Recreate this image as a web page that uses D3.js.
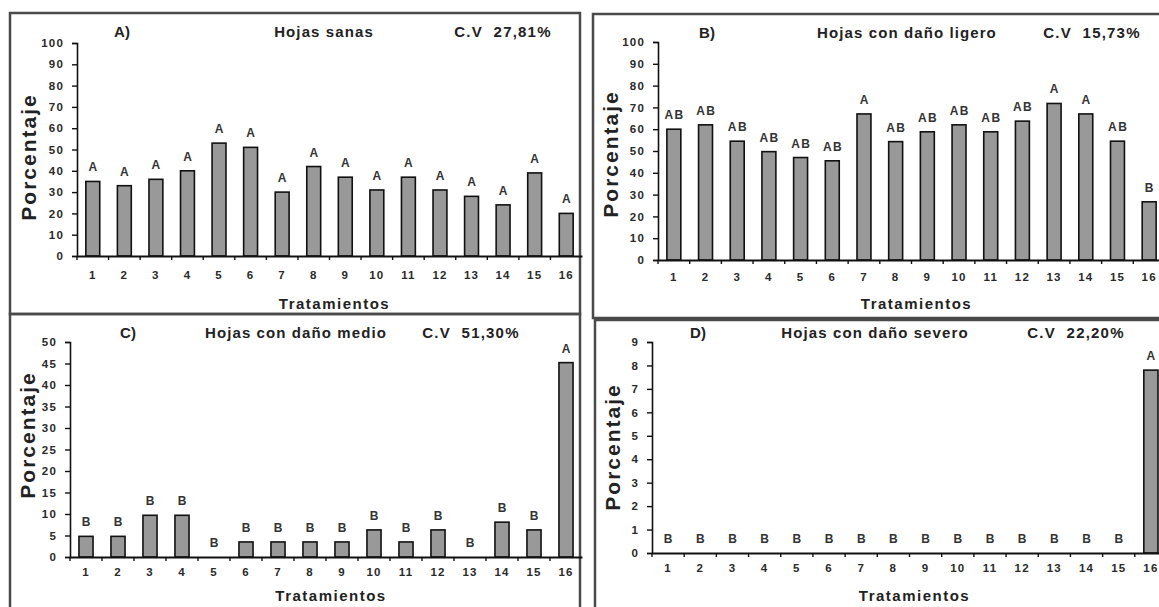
<!DOCTYPE html>
<html>
<head>
<meta charset="utf-8">
<script src="https://cdn.jsdelivr.net/npm/d3@7"></script>
<style>
  body { margin: 0; background: #fff; }
  svg { display: block; font-family: "Liberation Sans", Arial, sans-serif; }
  .ttl { font-weight: bold; fill: #222; }
</style>
</head>
<body>
<div id="chart"></div>
<script>
// Treatments 1..16
const tratamientos = d3.range(1, 17).map(String);

// A) Hojas sanas
const sanas = [35, 33, 36, 40, 53, 51, 30, 42, 37, 31, 37, 31, 28, 24, 39, 20];
const letrasSanas = ["A", "A", "A", "A", "A", "A", "A", "A", "A", "A", "A", "A", "A", "A", "A", "A"];

// B) Hojas con daño ligero
const ligero = [60, 62, 54.5, 49.7, 47, 45.5, 67, 54.3, 58.8, 62, 58.8, 63.7, 71.8, 67, 54.5, 26.7];
const letrasLigero = ["AB", "AB", "AB", "AB", "AB", "AB", "A", "AB", "AB", "AB", "AB", "AB", "A", "A", "AB", "B"];

// C) Hojas con daño medio
const medio = [4.8, 4.8, 9.7, 9.7, 0, 3.5, 3.5, 3.5, 3.5, 6.3, 3.5, 6.3, 0, 8.1, 6.3, 45.2];
const letrasMedio = ["B", "B", "B", "B", "B", "B", "B", "B", "B", "B", "B", "B", "B", "B", "B", "A"];

// D) Hojas con daño severo
const severo = [0, 0, 0, 0, 0, 0, 0, 0, 0, 0, 0, 0, 0, 0, 0, 7.8];
const letrasSevero = ["B", "B", "B", "B", "B", "B", "B", "B", "B", "B", "B", "B", "B", "B", "B", "A"];

// Y tick values per panel
const ticksPct100 = d3.range(0, 101, 10);
const ticksMedio = d3.range(0, 51, 5);
const ticksSevero = d3.range(0, 10, 1);

const W = 1159, H = 607;

const svg = d3.select("#chart").append("svg")
    .attr("width", W)
    .attr("height", H);

// panel layout (box = frame, ax = plotting area)
const panels = [
  { tag: "A)", name: "Hojas sanas", cv: "C.V  27,81%", values: sanas, letters: letrasSanas,
    max: 100, ticks: ticksPct100,
    box: [10, 13, 570, 301], x0: 77, x1: 582, yTop: 43, yBot: 256, xPad: 15, titleY: 37,
    tagX: 122, nameX: 324, cvX: 503, labX: 29, labY: 157, xtY: 309 },
  { tag: "B)", name: "Hojas con daño ligero", cv: "C.V  15,73%", values: ligero, letters: letrasLigero,
    max: 100, ticks: ticksPct100,
    box: [593, 14, 600, 304], x0: 658, x1: 1165, yTop: 42, yBot: 260, xPad: 13, titleY: 38,
    tagX: 707, nameX: 907, cvX: 1092, labX: 611, labY: 154, xtY: 309 },
  { tag: "C)", name: "Hojas con daño medio", cv: "C.V  51,30%", values: medio, letters: letrasMedio,
    max: 50, ticks: ticksMedio,
    box: [10, 314, 570, 310], x0: 70, x1: 582, yTop: 342, yBot: 557, xPad: 11, titleY: 338,
    tagX: 128, nameX: 296, cvX: 471, labX: 28, labY: 435, xtY: 601 },
  { tag: "D)", name: "Hojas con daño severo", cv: "C.V  22,20%", values: severo, letters: letrasSevero,
    max: 9, ticks: ticksSevero,
    box: [595, 320, 600, 310], x0: 652, x1: 1167, yTop: 342, yBot: 553, xPad: 11, titleY: 338,
    tagX: 698, nameX: 875, cvX: 1076, labX: 613, labY: 447, xtY: 601 }
];

panels.forEach(drawPanel);

function drawPanel(p) {
    const g = svg.append("g");

    // frame
    g.append("rect")
        .attr("x", p.box[0]).attr("y", p.box[1])
        .attr("width", p.box[2]).attr("height", p.box[3])
        .attr("fill", "none")
        .attr("stroke", "#4a4a4a")
        .attr("stroke-width", 2.5);

    const slot = d3.scaleBand().domain(tratamientos).range([p.x0, p.x1]).padding(0);
    const xBar = d3.scaleBand().domain(tratamientos).range([p.x0, p.x1])
        .paddingInner(0.56).paddingOuter(0.28);
    const y = d3.scaleLinear().domain([0, p.max]).range([p.yBot, p.yTop]);

    // bars
    g.selectAll(".bar")
        .data(p.values)
        .enter()
        .append("rect")
        .attr("class", "bar")
        .attr("x", (d, i) => xBar(tratamientos[i]))
        .attr("y", d => y(d))
        .attr("width", xBar.bandwidth())
        .attr("height", d => y(0) - y(d))
        .attr("fill", d => d > 0 ? "#999" : "none")
        .attr("stroke", d => d > 0 ? "#111" : "none")
        .attr("stroke-width", 1.6);

    // significance letters
    g.selectAll(".letter")
        .data(p.letters)
        .enter()
        .append("text")
        .attr("class", "letter")
        .attr("x", (d, i) => xBar(tratamientos[i]) + xBar.bandwidth() / 2 + 0.7)
        .attr("y", (d, i) => y(p.values[i]) - 10)
        .attr("text-anchor", "middle")
        .style("font-size", "12px")
        .style("font-weight", "bold")
        .style("letter-spacing", "1.4px")
        .style("fill", "#333")
        .text(d => d);

    // y axis
    const yAxis = d3.axisLeft(y).tickValues(p.ticks).tickSize(5).tickPadding(8);
    const ya = g.append("g")
        .attr("transform", `translate(${p.x0},0)`)
        .call(yAxis);
    ya.select(".domain").attr("stroke", "#111").attr("stroke-width", 1.6);
    ya.selectAll(".tick line").attr("stroke", "#111").attr("stroke-width", 1.4);
    ya.selectAll("text")
        .style("font-size", "11.5px")
        .style("font-weight", "bold")
        .style("letter-spacing", "1.2px")
        .style("fill", "#2a2a2a")
        .style("font-family", "Liberation Sans, Arial, sans-serif");

    // x axis line with ticks between treatments
    const xa = g.append("g")
        .attr("transform", `translate(0,${p.yBot})`)
        .call(d3.axisBottom(slot).tickSize(0).tickPadding(p.xPad));
    xa.select(".domain").attr("stroke", "#111").attr("stroke-width", 2);
    xa.selectAll("text")
        .style("font-size", "11.5px")
        .style("font-weight", "bold")
        .style("letter-spacing", "1.2px")
        .style("fill", "#2a2a2a")
        .style("font-family", "Liberation Sans, Arial, sans-serif");
    xa.selectAll(".sep")
        .data(tratamientos)
        .enter()
        .append("line")
        .attr("class", "sep")
        .attr("x1", d => slot(d)).attr("x2", d => slot(d))
        .attr("y1", 0).attr("y2", 4)
        .attr("stroke", "#111")
        .attr("stroke-width", 1.4);

    // titles
    g.append("text").attr("class", "ttl")
        .attr("x", p.tagX).attr("y", p.titleY)
        .attr("text-anchor", "middle")
        .style("font-size", "15px")
        .text(p.tag);
    g.append("text").attr("class", "ttl")
        .attr("x", p.nameX).attr("y", p.titleY)
        .attr("text-anchor", "middle")
        .style("font-size", "15px")
        .style("letter-spacing", "1.1px")
        .text(p.name);
    g.append("text").attr("class", "ttl")
        .attr("x", p.cvX).attr("y", p.titleY)
        .attr("text-anchor", "middle")
        .style("font-size", "15px")
        .style("letter-spacing", "1.2px")
        .style("white-space", "pre")
        .attr("xml:space", "preserve")
        .text(p.cv);

    // axis titles
    g.append("text").attr("class", "ttl")
        .attr("transform", `translate(${p.labX + 7},${p.labY}) rotate(-90)`)
        .attr("text-anchor", "middle")
        .style("font-size", "21px")
        .style("letter-spacing", "2px")
        .text("Porcentaje");
    g.append("text").attr("class", "ttl")
        .attr("x", (p.x0 + p.x1) / 2 + 5).attr("y", p.xtY)
        .attr("text-anchor", "middle")
        .style("font-size", "15px")
        .style("letter-spacing", "1.5px")
        .text("Tratamientos");
}
</script>
</body>
</html>
